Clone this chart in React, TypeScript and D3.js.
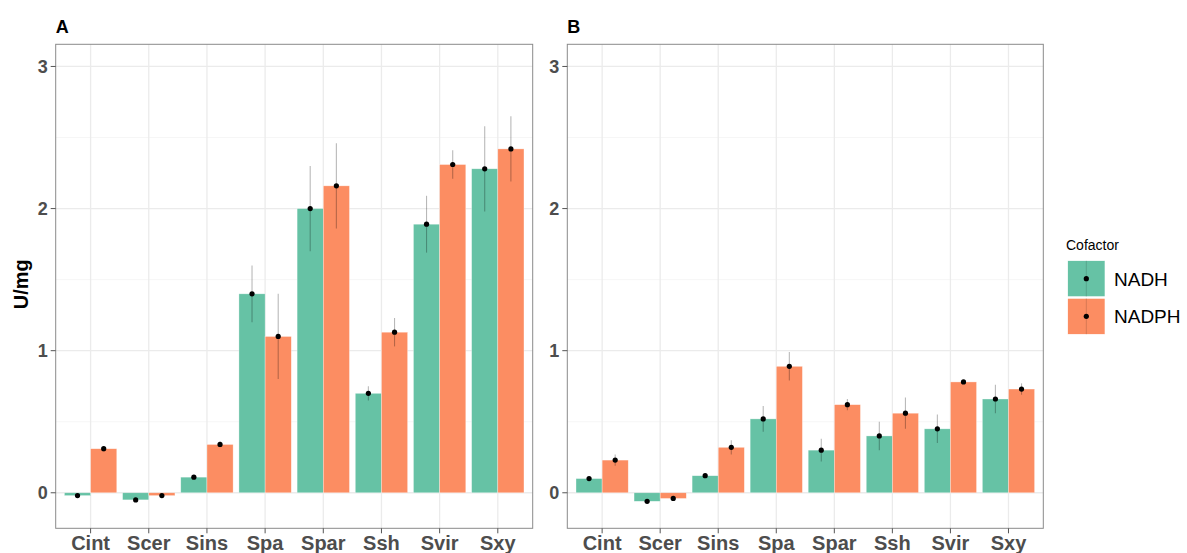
import React from "react";
import * as d3 from "d3";

// Strains on the x axis
const strains = ["Cint", "Scer", "Sins", "Spa", "Spar", "Ssh", "Svir", "Sxy"];
const cofactors = ["NADH", "NADPH"];
const colors = ["#66c2a5", "#fc8d62"];

// Panel A: mean activity (U/mg) and error half-width
const aNADH = [-0.02, -0.05, 0.11, 1.4, 2.0, 0.7, 1.89, 2.28];
const aNADHErr = [0.01, 0.01, 0.01, 0.2, 0.3, 0.05, 0.2, 0.3];
const aNADPH = [0.31, -0.02, 0.34, 1.1, 2.16, 1.13, 2.31, 2.42];
const aNADPHErr = [0.02, 0.01, 0.02, 0.3, 0.3, 0.1, 0.1, 0.23];

// Panel B
const bNADH = [0.1, -0.06, 0.12, 0.52, 0.3, 0.4, 0.45, 0.66];
const bNADHErr = [0.01, 0.01, 0.01, 0.09, 0.08, 0.1, 0.1, 0.1];
const bNADPH = [0.23, -0.04, 0.32, 0.89, 0.62, 0.56, 0.78, 0.73];
const bNADPHErr = [0.04, 0.01, 0.05, 0.1, 0.04, 0.11, 0.01, 0.04];

const yTicks = [0, 1, 2, 3];
const yMinor = [0.5, 1.5, 2.5];

const FONT = "'Liberation Sans', Arial, Helvetica, sans-serif";
const W = 1187;
const H = 553;
const top = 44.3;
const bottom = 528.3;

const y = d3.scaleLinear().domain([-0.25, 3.156]).range([bottom, top]);

type Panel = {
  label: string;
  x0: number;
  x1: number;
  series: number[][];
  errs: number[][];
};

const panels: Panel[] = [
  { label: "A", x0: 55.7, x1: 532.7, series: [aNADH, aNADPH], errs: [aNADHErr, aNADPHErr] },
  { label: "B", x0: 567.3, x1: 1043.3, series: [bNADH, bNADPH], errs: [bNADHErr, bNADPHErr] },
];

function PanelView({ p }: { p: Panel }) {
  const x = d3.scalePoint<string>().domain(strains).range([p.x0, p.x1]).padding(0.6);
  const step = x.step();
  const bw = step * 0.45;
  return (
    <g>
      <rect x={p.x0} y={top} width={p.x1 - p.x0} height={bottom - top} fill="#fff" />
      {yMinor.map((t) => (
        <line key={"mi" + t} x1={p.x0} x2={p.x1} y1={y(t)} y2={y(t)} stroke="#f2f2f2" strokeWidth={0.7} />
      ))}
      {yTicks.map((t) => (
        <line key={"ma" + t} x1={p.x0} x2={p.x1} y1={y(t)} y2={y(t)} stroke="#ebebeb" strokeWidth={1.3} />
      ))}
      {strains.map((s) => (
        <line key={"v" + s} x1={x(s)!} x2={x(s)!} y1={top} y2={bottom} stroke="#ebebeb" strokeWidth={1.3} />
      ))}
      {p.series.map((vals, si) =>
        vals.map((v, i) => {
          const cx = x(strains[i])!;
          const bx = si === 0 ? cx - bw : cx;
          return (
            <rect
              key={`b${si}-${i}`}
              x={bx}
              y={Math.min(y(v), y(0))}
              width={bw}
              height={Math.abs(y(v) - y(0))}
              fill={colors[si]}
              stroke="#fff"
              strokeOpacity={0.55}
              strokeWidth={0.6}
            />
          );
        })
      )}
      {p.series.map((vals, si) =>
        vals.map((v, i) => {
          const cx = x(strains[i])! + (si === 0 ? -bw / 2 : bw / 2);
          const e = p.errs[si][i];
          return (
            <g key={`e${si}-${i}`}>
              <line x1={cx} x2={cx} y1={y(v + e)} y2={y(v - e)} stroke="#000" strokeOpacity={0.28} strokeWidth={1.1} />
              <circle cx={cx} cy={y(v)} r={2.6} fill="#000" />
            </g>
          );
        })
      )}
      <rect x={p.x0} y={top} width={p.x1 - p.x0} height={bottom - top} fill="none" stroke="#8a8a8a" strokeWidth={1} />
      {yTicks.map((t) => (
        <g key={"yt" + t}>
          <line x1={p.x0 - 5} x2={p.x0} y1={y(t)} y2={y(t)} stroke="#555" strokeWidth={1} />
          <text
            x={p.x0 - 8}
            y={y(t)}
            dy="0.36em"
            textAnchor="end"
            fontFamily={FONT}
            fontWeight="bold"
            fontSize={18}
            fill="#4d4d4d"
          >
            {t}
          </text>
        </g>
      ))}
      {strains.map((s) => (
        <g key={"xt" + s}>
          <line x1={x(s)!} x2={x(s)!} y1={bottom} y2={bottom + 5} stroke="#555" strokeWidth={1} />
          <text
            x={x(s)!}
            y={550}
            textAnchor="middle"
            fontFamily={FONT}
            fontWeight="bold"
            fontSize={20}
            fill="#4d4d4d"
          >
            {s}
          </text>
        </g>
      ))}
      <text x={p.x0} y={33} fontFamily={FONT} fontWeight="bold" fontSize={18} fill="#000">
        {p.label}
      </text>
    </g>
  );
}

export default function App() {
  return (
    <svg
      width={W}
      height={H}
      style={{ position: "absolute", left: 0, top: 0, background: "#fff" }}
    >
      <rect width={W} height={H} fill="#fff" />
      {panels.map((p) => (
        <PanelView key={p.label} p={p} />
      ))}
      <text
        transform={`translate(28,${(top + bottom) / 2 - 2}) rotate(-90)`}
        textAnchor="middle"
        fontFamily={FONT}
        fontWeight="bold"
        fontSize={20}
        fill="#000"
      >
        U/mg
      </text>
      {/* legend */}
      <text x={1066} y={250} fontFamily={FONT} fontSize={14} fill="#000">
        Cofactor
      </text>
      {cofactors.map((c, i) => {
        const ky = 260.7 + i * 37.6;
        return (
          <g key={c}>
            <rect x={1067.7} y={ky} width={37.3} height={36} fill={colors[i]} stroke="#fff" strokeWidth={0.6} />
            <line x1={1086.3} x2={1086.3} y1={ky} y2={ky + 36} stroke="#000" strokeOpacity={0.15} strokeWidth={1} />
            <circle cx={1086.3} cy={ky + 18} r={2.6} fill="#000" />
            <text x={1114} y={ky + 18} dy="0.36em" fontFamily={FONT} fontSize={19} fill="#000">
              {c}
            </text>
          </g>
        );
      })}
    </svg>
  );
}
